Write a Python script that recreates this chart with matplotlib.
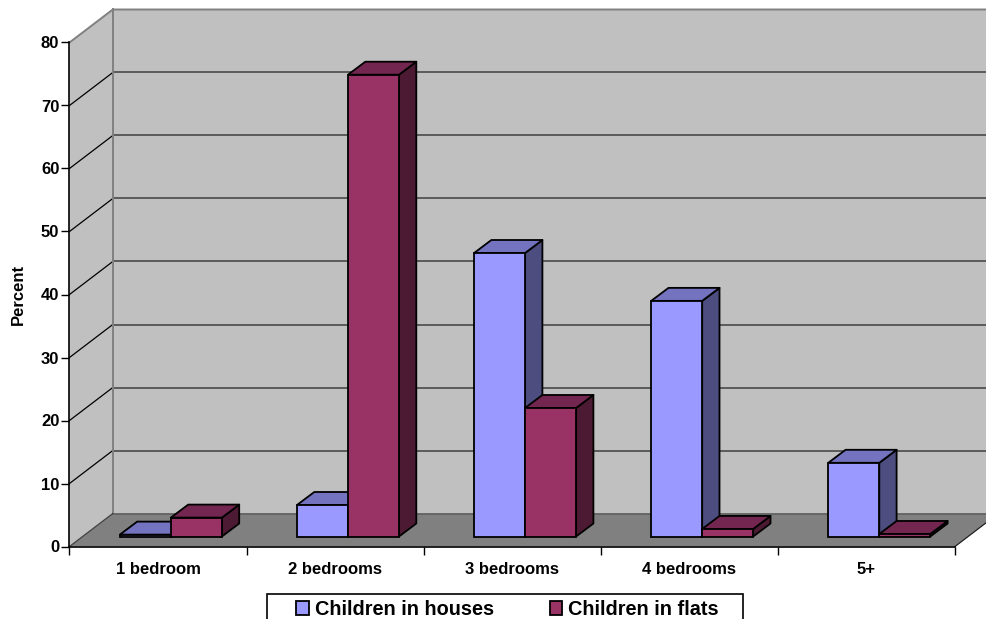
import matplotlib
matplotlib.use('Agg')
import matplotlib.pyplot as plt
from matplotlib.patches import Patch, Rectangle

plt.rcParams['font.family'] = ['Liberation Sans', 'DejaVu Sans']
plt.rcParams['font.weight'] = 'bold'

categories = ['1 bedroom', '2 bedrooms', '3 bedrooms', '4 bedrooms', '5+']
houses = [0.3, 5.0, 45.0, 37.4, 11.7]
flats = [3.0, 73.3, 20.4, 1.2, 0.4]
y_ticks = [0, 10, 20, 30, 40, 50, 60, 70, 80]

W, H = 987, 619
# plot area in pixels: front edge of the floor and the front of the left wall
left, right, bottom, top = 69.5, 955.0, 546.5, 42.5
cat_px = (right - left) / 5
val_px = (bottom - top) / 80

# 3d look, oblique offsets converted to data units
wall_dx, wall_dy = 43.3 / cat_px, 33 / val_px
bar_dx, bar_dy = 17.3 / cat_px, 13 / val_px
front_dx, front_dy = 12.9 / cat_px, 10 / val_px
gap = 37.5 / cat_px
bar_w = 51 / cat_px

house_cols = ('#9999FF', '#7373BF', '#4D4D80')
flat_cols = ('#993366', '#732650', '#4D1A33')

fig = plt.figure(figsize=(W / 100, H / 100), dpi=100)
ax = fig.add_axes([left / W, 1 - bottom / H, (right - left) / W, (bottom - top) / H])
ax.set_xlim(0, 5)
ax.set_ylim(0, 80)
ax.patch.set_visible(False)

# walls and floor
ax.fill([0, wall_dx, wall_dx, 0], [0, wall_dy, 80 + wall_dy, 80],
        fc='#C0C0C0', ec='none', clip_on=False, zorder=0)
ax.fill([wall_dx, 5 + wall_dx, 5 + wall_dx, wall_dx], [wall_dy, wall_dy, 80 + wall_dy, 80 + wall_dy],
        fc='#C0C0C0', ec='none', clip_on=False, zorder=0)
ax.fill([0, 5, 5 + wall_dx, wall_dx], [0, 0, wall_dy, wall_dy],
        fc='#808080', ec='none', clip_on=False, zorder=0)

# gridlines
for v in y_ticks[1:-1]:
    ax.plot([0, wall_dx], [v, v + wall_dy], color='black', lw=0.9, clip_on=False, zorder=0.5)
    ax.plot([wall_dx, 5 + wall_dx], [v + wall_dy, v + wall_dy], color='#404040', lw=1.1, clip_on=False, zorder=0.5)

# wall outlines
ax.plot([0, wall_dx, 5 + wall_dx], [80, 80 + wall_dy, 80 + wall_dy], color='#808080', lw=1.4, clip_on=False, zorder=0.6)
ax.plot([wall_dx, wall_dx], [wall_dy, 80 + wall_dy], color='#808080', lw=1.4, clip_on=False, zorder=0.6)
ax.plot([wall_dx, 5 + wall_dx], [wall_dy, wall_dy], color='#606060', lw=1.2, clip_on=False, zorder=0.6)
ax.plot([0, wall_dx], [0, wall_dy], color='#404040', lw=0.9, clip_on=False, zorder=0.6)
ax.plot([5, 5 + wall_dx], [0, wall_dy], color='#202020', lw=0.9, clip_on=False, zorder=0.6)


def draw_bar(x, value, cols):
    x0 = x + front_dx
    y0 = front_dy
    x1 = x0 + bar_w
    y1 = y0 + value
    ax.fill([x1, x1 + bar_dx, x1 + bar_dx, x1], [y0, y0 + bar_dy, y1 + bar_dy, y1],
            fc=cols[2], ec='black', lw=1.3, clip_on=False, zorder=1, joinstyle='round')
    ax.fill([x0, x1, x1 + bar_dx, x0 + bar_dx], [y1, y1, y1 + bar_dy, y1 + bar_dy],
            fc=cols[1], ec='black', lw=1.3, clip_on=False, zorder=1, joinstyle='round')
    ax.bar(x0, value, bar_w, bottom=y0, align='edge', color=cols[0], edgecolor='black',
           linewidth=1.3, clip_on=False, zorder=1)


for i in range(len(categories)):
    draw_bar(i + gap, houses[i], house_cols)
    draw_bar(i + gap + bar_w, flats[i], flat_cols)

for s in ['top', 'right']:
    ax.spines[s].set_visible(False)
for s in ['left', 'bottom']:
    ax.spines[s].set_linewidth(1.2)
    ax.spines[s].set_zorder(3)

ax.set_yticks(y_ticks)
ax.tick_params(axis='y', length=5.8, width=1.0, pad=1.5, labelsize=12)
ax.set_xticks(range(6))
ax.set_xticklabels([])
ax.tick_params(axis='x', which='major', length=5.8, width=1.0)
ax.set_xticks([i + 0.5 for i in range(5)], minor=True)
ax.set_xticklabels(categories, minor=True, fontsize=12)
ax.tick_params(axis='x', which='minor', length=0, pad=11)

ax.set_ylabel('Percent', fontsize=12, fontweight='bold')
ax.yaxis.set_label_coords((25.5 - left) / (right - left), 0.5)

# legend box runs off the bottom edge of the figure
fig.add_artist(Rectangle((267.5 / W, 1 - 626 / H), 475.5 / W, 32 / H, transform=fig.transFigure,
                         fc='white', ec='black', lw=1.2, zorder=4))
handles = [Patch(fc=house_cols[0], ec='black', lw=1.3), Patch(fc=flat_cols[0], ec='black', lw=1.3)]
fig.legend(handles, ['Children in houses', 'Children in flats'], ncols=2,
           loc='center left', bbox_to_anchor=(296.5 / W, 1 - 609.5 / H), borderaxespad=0, borderpad=0,
           fontsize=14.3, frameon=False, handlelength=0.65, handleheight=0.65,
           handletextpad=0.27, columnspacing=2.8).set_zorder(5)

fig.savefig('out.png', dpi=100)
